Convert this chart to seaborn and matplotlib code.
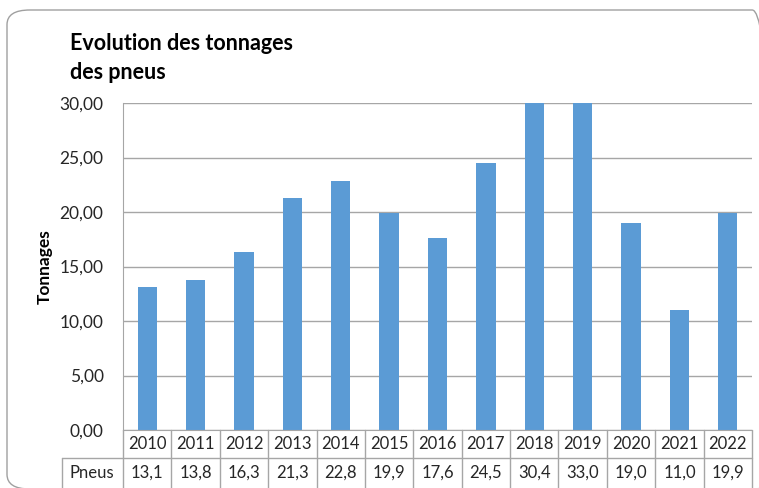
import matplotlib
matplotlib.use('Agg')
import matplotlib.pyplot as plt
import matplotlib.transforms as mtransforms
from matplotlib.patches import FancyBboxPatch
from matplotlib.ticker import FuncFormatter
import seaborn as sns

# Data
years = ['2010', '2011', '2012', '2013', '2014', '2015', '2016',
         '2017', '2018', '2019', '2020', '2021', '2022']
pneus = [13.1, 13.8, 16.3, 21.3, 22.8, 19.9, 17.6, 24.5, 30.4, 33.0, 19.0, 11.0, 19.9]
table_values = ['13,1', '13,8', '16,3', '21,3', '22,8', '19,9', '17,6',
                '24,5', '30,4', '33,0', '19,0', '11,0', '19,9']

sns.set_style('white')
plt.rcParams['font.family'] = ['Lato', 'DejaVu Sans']

W, H = 759, 488
fig = plt.figure(figsize=(W / 100, H / 100), dpi=100)
ax = fig.add_axes([123 / W, 1 - 430 / H, (752 - 123) / W, (430 - 103) / H])

grid_col = '#A6A6A6'
bar_col = '#5B9BD5'
txt_col = '#262626'

sns.barplot(x=years, y=pneus, color=bar_col, width=0.4, saturation=1,
            edgecolor='none', ax=ax)

ax.set_ylim(0, 30)
ax.set_xlim(-0.5, len(years) - 0.5)
ax.set_yticks(range(0, 31, 5))
ax.yaxis.set_major_formatter(FuncFormatter(lambda v, p: f"{v:.2f}".replace('.', ',')))
ax.grid(axis='y', color=grid_col, linewidth=1)
ax.set_axisbelow(True)
ax.tick_params(axis='y', length=0, pad=14, labelsize=12.5, labelcolor=txt_col)
ax.set_xticks([])
ax.set_xlabel('')
ax.set_ylabel('')
for s in ['top', 'right']:
    ax.spines[s].set_visible(False)
ax.spines['left'].set_color(grid_col)
ax.spines['bottom'].set_color(grid_col)

# y label and title
fig.text(45 / W, 1 - 267 / H, 'Tonnages', rotation=90, ha='center', va='center',
         fontsize=12.5, fontweight='bold', color='black')
fig.text(70 / W, 1 - 58 / H, 'Evolution des tonnages\ndes pneus', ha='left', va='center',
         fontsize=15.5, fontweight='bold', color='black', linespacing=1.45)

# data table below the axes
bt = mtransforms.blended_transform_factory(ax.transData, fig.transFigure)
def fy(py):
    return 1 - py / H

n = len(years)
for i in range(n + 1):
    xb = i - 0.5
    ax.plot([xb, xb], [fy(430), fy(H + 2)], transform=bt, color=grid_col, lw=1, clip_on=False)
ax.plot([-0.5, n - 0.5], [fy(458), fy(458)], transform=bt, color=grid_col, lw=1, clip_on=False)
fig.lines.append(plt.Line2D([62 / W, 123 / W], [fy(458), fy(458)], transform=fig.transFigure,
                            color=grid_col, lw=1))
fig.lines.append(plt.Line2D([62 / W, 62 / W], [fy(458), fy(H + 2)], transform=fig.transFigure,
                            color=grid_col, lw=1))

for i, (yr, val) in enumerate(zip(years, table_values)):
    ax.text(i, fy(444), yr, transform=bt, ha='center', va='center', fontsize=12, color=txt_col)
    ax.text(i, fy(473), val, transform=bt, ha='center', va='center', fontsize=12, color=txt_col)
fig.text(92 / W, fy(473), 'Pneus', ha='center', va='center', fontsize=12, color=txt_col)

# rounded chart border
border = FancyBboxPatch((7 / W, fy(489)), (775 - 7) / W, (489 - 10) / H,
                        boxstyle='round,pad=0,rounding_size=0.03',
                        transform=fig.transFigure, facecolor='none',
                        edgecolor='#A0A0A0', lw=1, clip_on=False)
fig.patches.append(border)

fig.savefig('out.png', dpi=100)
